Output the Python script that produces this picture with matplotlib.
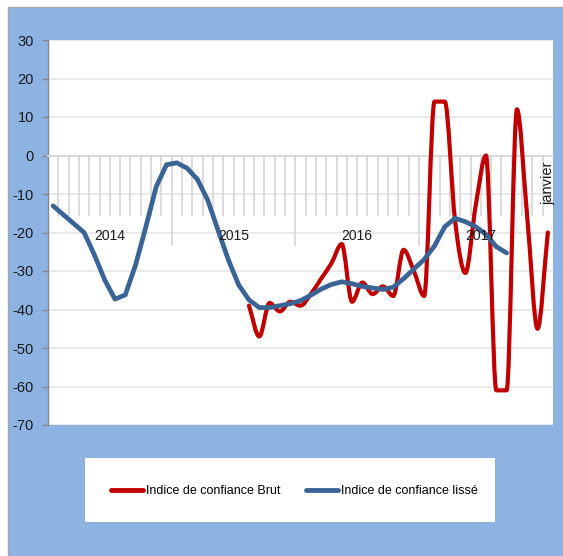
import numpy as np
import matplotlib.pyplot as plt
from matplotlib.path import Path
from matplotlib.patches import PathPatch, Rectangle
from matplotlib.lines import Line2D

plt.rcParams['font.family'] = ['Liberation Sans', 'DejaVu Sans']

# indice lissé : janvier 2014 -> septembre 2017
lisse = [-13.1, -15.4, -17.7, -20.0, -25.8, -32.3, -37.3, -36.2, -28.4, -18.5,
         -8.1, -2.4, -1.9, -3.3, -6.2, -11.6, -19.4, -27.1, -33.6, -37.5,
         -39.5, -39.5, -39.0, -38.5, -37.7, -36.3, -34.7, -33.5, -32.8, -33.3,
         -34.0, -34.4, -34.8, -34.2, -32.0, -29.5, -27.0, -23.5, -18.5, -16.3,
         -17.2, -18.5, -20.5, -23.7, -25.3]
# indice brut : août 2015 -> janvier 2018
brut_debut = 19
brut = [-39.0, -47.0, -38.3, -40.5, -38.0, -39.0, -36.0, -32.0, -28.0, -23.0,
        -38.0, -33.0, -36.0, -34.0, -36.5, -24.5, -30.0, -36.5, 14.0, 14.0,
        -17.0, -30.5, -13.0, 0.0, -61.0, -61.0, 12.0, -16.0, -45.0, -20.0]

annees = ['2014', '2015', '2016', '2017']
n_mois = 49
yticks = list(range(-70, 31, 10))

rouge = '#C00000'
bleu = '#3A6496'
fond = '#8DB3E2'
fs = 10

fig = plt.figure(figsize=(5.63, 5.56), dpi=100)
fig.patch.set_facecolor('white')
fig.patches.append(Rectangle((8 / 563, -0.01), 1.0, 549 / 556 + 0.01,
                             transform=fig.transFigure, facecolor=fond,
                             edgecolor='#A6A6A6', linewidth=1, zorder=-2))

ax = fig.add_axes([48 / 563, 1 - 425 / 556, 505 / 563, 385 / 556])
ax.set_facecolor('white')
ax.set_xlim(-0.5, n_mois - 0.5)
ax.set_ylim(-70, 30)

# grille horizontale
for v in yticks:
    ax.axhline(v, color='#E8E8E8', linewidth=1.3, zorder=1)

# axe des catégories à 0
ax.spines['bottom'].set_position(('data', 0))
ax.spines['bottom'].set_color('#D9D9D9')
ax.spines['bottom'].set_linewidth(1.3)
for s in ['top', 'right']:
    ax.spines[s].set_visible(False)
ax.spines['left'].set_color('#868686')
ax.spines['left'].set_linewidth(1)

bornes = np.arange(1, n_mois) - 0.5
longues = [11.5, 23.5, 35.5]
courtes = [b for b in bornes if b not in longues]
ax.set_xticks(longues)
ax.set_xticks(courtes, minor=True)
ax.tick_params(axis='x', which='major', direction='out', length=65,
               width=1.3, color='#D9D9D9', labelbottom=False)
ax.tick_params(axis='x', which='minor', direction='out', length=43,
               width=1.3, color='#D9D9D9', labelbottom=False)

ax.set_yticks(yticks)
ax.set_yticklabels([str(v) for v in yticks])
ax.tick_params(axis='y', direction='out', length=4, width=1, color='#868686',
               pad=6, labelsize=fs + 0.5, labelcolor='#1a1a1a')

for k, a in enumerate(annees):
    ax.text(5.5 + 12 * k, -20.8, a, ha='center', va='center', fontsize=fs,
            color='#1a1a1a', zorder=5)
ax.text(48, -1.5, 'janvier', rotation=90, ha='center', va='top',
        fontsize=fs + 0.5, color='#1a1a1a', zorder=5)

# courbe brute lissée (Bézier ; tangente horizontale aux extrema)
xb = np.arange(brut_debut, brut_debut + len(brut), dtype=float)
yb = np.array(brut)
pente = np.zeros(len(yb))
for k in range(1, len(yb) - 1):
    a, b, c = yb[k - 1], yb[k], yb[k + 1]
    if (b - a) * (c - b) > 0:
        pente[k] = (c - a) / 2
pente[0] = yb[1] - yb[0]
pente[-1] = yb[-1] - yb[-2]
verts = [(xb[0], yb[0])]
codes = [Path.MOVETO]
for k in range(len(yb) - 1):
    lo, hi = min(yb[k], yb[k + 1]), max(yb[k], yb[k + 1])
    c1 = np.clip(yb[k] + pente[k] / 3, lo, hi)
    c2 = np.clip(yb[k + 1] - pente[k + 1] / 3, lo, hi)
    verts += [(xb[k] + 1 / 3, c1), (xb[k + 1] - 1 / 3, c2), (xb[k + 1], yb[k + 1])]
    codes += [Path.CURVE4] * 3
ax.add_patch(PathPatch(Path(verts, codes), facecolor='none', edgecolor=rouge,
                       linewidth=3, capstyle='round', joinstyle='round', zorder=3))

ax.plot(np.arange(len(lisse)), lisse, color=bleu, linewidth=3.4,
        solid_capstyle='round', solid_joinstyle='round', zorder=4)

# légende
fig.patches.append(Rectangle((85 / 563, 1 - 522 / 556), 410 / 563, 64 / 556,
                             transform=fig.transFigure, facecolor='white',
                             edgecolor='none', zorder=-1))
handles = [Line2D([], [], color=rouge, linewidth=3.5, solid_capstyle='round'),
           Line2D([], [], color=bleu, linewidth=3.5, solid_capstyle='round')]
fig.legend(handles, ['Indice de confiance Brut', 'Indice de confiance lissé'],
           loc='center', bbox_to_anchor=(0.523, 1 - 491 / 556), ncol=2,
           frameon=False, fontsize=9, handlelength=2.6, handletextpad=0.25,
           columnspacing=2.0)

fig.savefig('out.png', dpi=100)
